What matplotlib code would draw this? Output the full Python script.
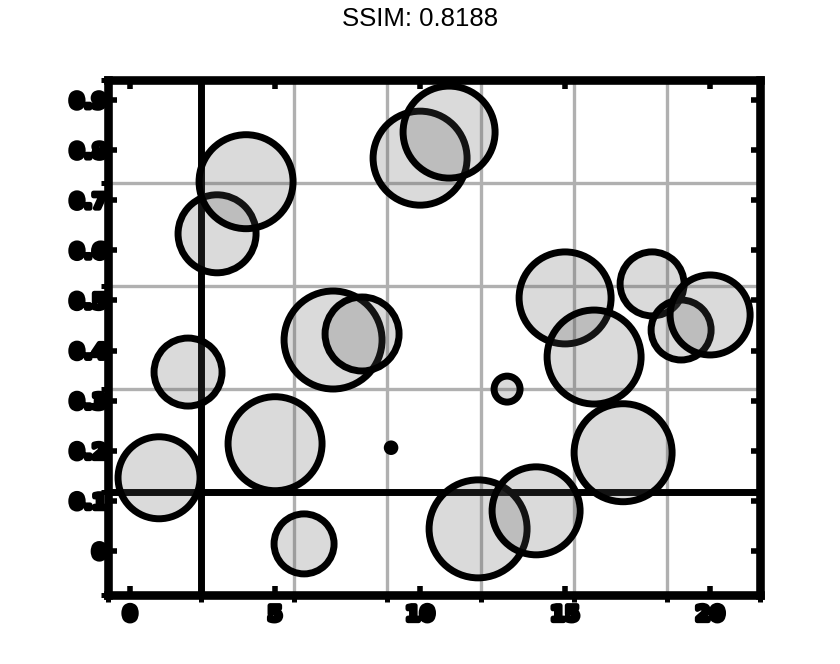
import matplotlib
matplotlib.use("Agg")
import matplotlib.pyplot as plt
import matplotlib.patheffects as pe
from matplotlib.ticker import FixedLocator, FuncFormatter
import numpy as np

# data
x_vals = [1, 2, 3, 4, 5, 6, 7, 8, 9, 10, 11, 12, 13, 14, 15, 16, 17, 18, 19, 20]
y_vals = [0.146, 0.357, 0.633, 0.737, 0.214, 0.014, 0.421, 0.433, 0.206, 0.784,
          0.836, 0.044, 0.323, 0.080, 0.505, 0.387, 0.196, 0.533, 0.441, 0.471]
bubble_sizes = [3486, 2397, 3154, 4580, 4580, 1866, 4978, 2839, 30, 4580,
                4388, 4978, 350, 4014, 4388, 4580, 4978, 2123, 1866, 3318]
x_ticks = [0, 5, 10, 15, 20]
y_ticks = [0, 0.1, 0.2, 0.3, 0.4, 0.5, 0.6, 0.7, 0.8, 0.9]
title_text = "SSIM: 0.8188"

fig = plt.figure(figsize=(8.4, 6.64), dpi=100)
W, H = 840, 664
L, R, T, B = 108, 760, 80, 595
ax = fig.add_axes([L / W, (H - B) / H, (R - L) / W, (B - T) / H])

xlim = (-0.76, 21.72)
ylim = (-0.088, 0.940)
ax.set_xlim(*xlim)
ax.set_ylim(*ylim)

ax.scatter(x_vals, y_vals, s=bubble_sizes,
           facecolor=(90 / 255, 90 / 255, 90 / 255, 0.22),
           edgecolor="black", linewidths=5, zorder=3)

# secondary grid
xminor = list(np.linspace(xlim[0], xlim[1], 8))
yminor = list(np.linspace(ylim[0], ylim[1], 6))
ax.xaxis.set_minor_locator(FixedLocator(xminor))
ax.yaxis.set_minor_locator(FixedLocator(yminor))
ax.grid(which="minor", color="#b0b0b0", linewidth=2.4)
ax.grid(which="major", visible=False)
ax.axvline(xminor[1], color="black", linewidth=5, zorder=2)
ax.axhline(yminor[1], color="black", linewidth=5, zorder=2)

ax.xaxis.set_major_locator(FixedLocator(x_ticks))
ax.yaxis.set_major_locator(FixedLocator(y_ticks))
ax.yaxis.set_major_formatter(FuncFormatter(lambda v, p: f"{v:g}"))
ax.xaxis.set_major_formatter(FuncFormatter(lambda v, p: f"{v:g}"))

for s in ax.spines.values():
    s.set_linewidth(6.2)
    s.set_color("black")

ax.tick_params(which="major", direction="in", length=6.5, width=4,
               top=True, right=True, color="black")
ax.tick_params(which="minor", direction="out", length=5, width=3.6,
               bottom=True, left=True, top=False, right=False, color="black")
ax.tick_params(axis="y", which="major", pad=1)
ax.tick_params(axis="x", which="major", pad=7)

for lab in ax.get_xticklabels() + ax.get_yticklabels():
    lab.set_fontsize(15)
    lab.set_fontweight("bold")
    lab.set_fontfamily("DejaVu Sans")
    lab.set_path_effects([pe.withStroke(linewidth=3.5, foreground="black")])

fig.text(0.5, 1 - 19.5 / H, title_text, ha="center", va="center",
         fontsize=18.5, family="Liberation Sans", color="black")

fig.savefig("out.png", dpi=100)
